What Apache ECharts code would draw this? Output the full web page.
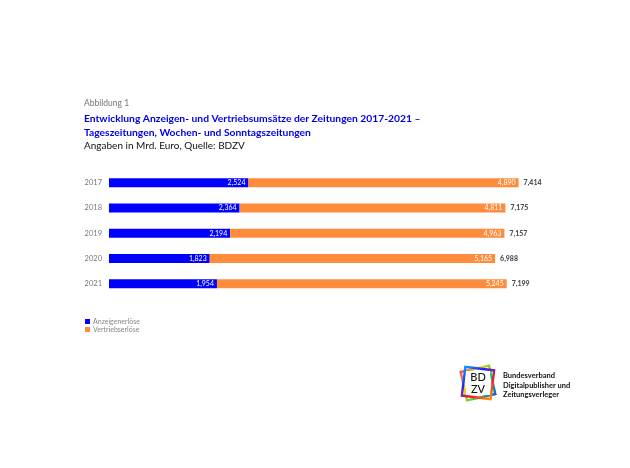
<!DOCTYPE html>
<html>
<head>
<meta charset="utf-8">
<script src="https://cdn.jsdelivr.net/npm/echarts@6/dist/echarts.min.js"></script>
<style>
  html, body { margin: 0; padding: 0; background: #fff; }
  #chart { width: 630px; height: 468px; }
</style>
</head>
<body>
<div id="chart"></div>
<script>
// Daten (Mrd. Euro)
const years = ['2017', '2018', '2019', '2020', '2021'];
const anzeigen = [2.524, 2.364, 2.194, 1.823, 1.954];
const vertrieb = [4.890, 4.811, 4.963, 5.165, 5.245];
const totals = [7.414, 7.175, 7.157, 6.988, 7.199];
const seriesNames = ['Anzeigenerlöse', 'Vertriebserlöse'];

const FONT = 'Lato, "Noto Sans", sans-serif';

function fmt(v) {
    return v.toFixed(3).replace('.', ',');
}

let chart = echarts.init(document.getElementById('chart'));

// Logo in der Ecke unten rechts
let logoCx = 478, logoCy = 383;
function frame(rot, colors) {
    return {
        type: 'rect',
        x: logoCx, y: logoCy,
        originX: 0, originY: 0,
        rotation: rot,
        shape: { x: -14.5, y: -14.5, width: 29, height: 29 },
        style: {
            fill: 'none',
            lineWidth: 2.4,
            stroke: new echarts.graphic.LinearGradient(0, 0, 1, 1, [
                { offset: 0, color: colors[0] },
                { offset: 0.35, color: colors[1] },
                { offset: 0.65, color: colors[2] },
                { offset: 1, color: colors[3] }
            ])
        }
    };
}

let option = {
    backgroundColor: '#fff',
    animation: false,
    grid: { left: 109, right: 79, top: 170, height: 126.5, containLabel: false },
    xAxis: {
        type: 'value',
        min: 0, max: 8,
        show: false
    },
    yAxis: {
        type: 'category',
        data: years,
        inverse: true,
        axisLine: { show: false },
        axisTick: { show: false },
        axisLabel: { color: '#777', fontSize: 7.5, fontFamily: FONT, margin: 7 }
    },
    legend: {
        orient: 'vertical',
        left: 80, top: 313,
        itemWidth: 5, itemHeight: 5, itemGap: 1,
        icon: 'rect',
        data: seriesNames,
        textStyle: { color: '#888', fontSize: 7, fontFamily: FONT, padding: [0, 0, 0, -2] }
    },
    series: [
        {
            name: seriesNames[0],
            type: 'bar',
            stack: 'sum',
            barWidth: 9,
            data: anzeigen,
            itemStyle: { color: '#0000ff' },
            label: {
                show: true, position: 'insideRight', distance: 3,
                color: '#fff', fontSize: 7, fontFamily: FONT,
                formatter: (p) => fmt(p.value)
            }
        },
        {
            name: seriesNames[1],
            type: 'bar',
            stack: 'sum',
            barWidth: 9,
            data: vertrieb,
            itemStyle: { color: '#ff8c3c' },
            label: {
                show: true, position: 'insideRight', distance: 3,
                color: '#fff', fontSize: 7, fontFamily: FONT,
                formatter: (p) => fmt(p.value)
            }
        },
        {
            name: 'Gesamt',
            type: 'scatter',
            symbolSize: 0,
            data: totals.map((t, i) => [t, years[i]]),
            label: {
                show: true, position: 'right', distance: 5,
                color: '#222', fontSize: 7, fontWeight: 900, fontFamily: FONT,
                formatter: (p) => fmt(p.value[0])
            }
        }
    ],
    graphic: [
        { type: 'text', left: 84, top: 99, style: { text: 'Abbildung 1', fill: '#777', font: '8.5px ' + FONT } },
        { type: 'text', left: 84, top: 111, style: {
            text: 'Entwicklung Anzeigen- und Vertriebsumsätze der Zeitungen 2017-2021 –\nTageszeitungen, Wochen- und Sonntagszeitungen',
            fill: '#0000e6', font: 'bold 10.3px ' + FONT, lineHeight: 14.5 } },
        { type: 'text', left: 84, top: 141, style: { text: 'Angaben in Mrd. Euro, Quelle: BDZV', fill: '#111', font: '10px ' + FONT } },

        frame(0.22, ['#ff2a6a', '#ffd200', '#22cc66', '#0044ff']),
        frame(-0.12, ['#00b8ff', '#2222ff', '#ff1f1f', '#ffb000']),
        { type: 'rect', x: logoCx - 12, y: logoCy - 12, shape: { width: 24, height: 24 }, style: { fill: '#fff' } },
        { type: 'text', x: logoCx, y: logoCy - 5.5, style: { text: 'BD', fill: '#111', font: '500 11px ' + FONT, align: 'center', verticalAlign: 'middle' } },
        { type: 'text', x: logoCx, y: logoCy + 6, style: { text: 'ZV', fill: '#111', font: '500 11px ' + FONT, align: 'center', verticalAlign: 'middle' } },
        { type: 'text', left: 503, top: 371, style: {
            text: 'Bundesverband\nDigitalpublisher und\nZeitungsverleger',
            fill: '#111', font: 'bold 7.5px ' + FONT, lineHeight: 9.5 } }
    ]
};
chart.setOption(option);
</script>
</body>
</html>
